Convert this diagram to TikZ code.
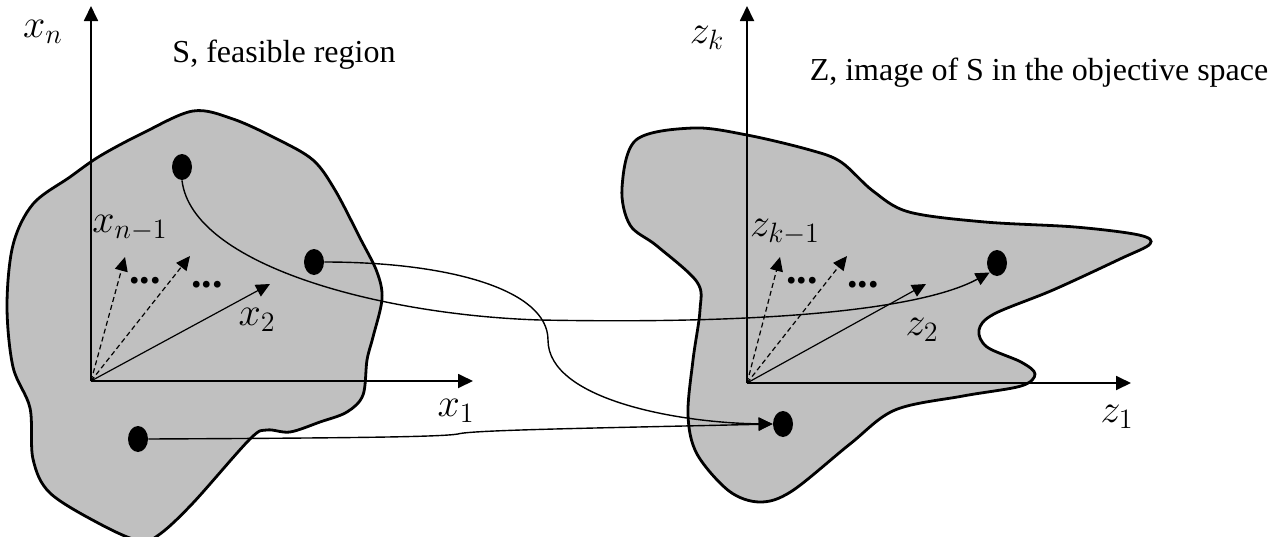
\RequirePackage{fix-cm}
\documentclass[tikz,border=0pt]{standalone}
\usepackage{amsmath}
\usepackage[no-math]{fontspec}
\setmainfont{Liberation Serif}
\usepackage{tikz}
\usetikzlibrary{arrows.meta,shapes.geometric}
\definecolor{regiongray}{HTML}{C0C0C0}

\begin{document}
\begin{tikzpicture}[
  x=0.5pt, y=-0.5pt,
  region/.style={draw=black, fill=regiongray, line width=1.4pt},
  axarrow/.style={-{Triangle[length=7.5pt,width=7pt]}, line width=0.9pt},
  vec/.style={-{Triangle[length=7pt,width=6.5pt]}, line width=0.6pt},
  dvec/.style={vec, dash pattern=on 2.5pt off 1.6pt},
  link/.style={-{Triangle[length=7pt,width=6.5pt]}, line width=0.7pt},
  pnt/.style={ellipse, fill=black, inner sep=0pt, minimum width=10pt, minimum height=13pt},
  lbl/.style={font=\fontsize{20}{22}\selectfont, inner sep=0pt},
  ttl/.style={font=\fontsize{16}{18}\selectfont, inner sep=0pt},
  ellip/.style={font=\fontsize{21}{22}\selectfont\bfseries, inner sep=0pt},
]
\useasboundingbox (0,0) rectangle (1286,536);

% feasible region S
\draw[region] plot[smooth cycle, tension=0.55] coordinates {
  (193,111) (233,119) (277,139) (313,160) (335,190) (360,238) (377,272)
  (382,299) (373,337) (367,360) (363,395) (347,412) (320,422) (290,432)
  (267,430) (250,439) (193,503) (160,534) (140,541) (100,524) (50,493)
  (33,459) (30,408) (13,367) (7,306) (13,245) (33,204) (70,177) (100,156)
  (143,133)};

% image Z
\draw[region] plot[smooth cycle, tension=0.55] coordinates {
  (693,128) (747,135) (810,150) (841,162) (873,191) (909,212) (985,222)
  (1075,227) (1139,235) (1150,244) (1120,259) (1053,290) (994,314)
  (979,330) (987,347) (1021,362) (1035,374) (1021,386) (963,396)
  (895,410) (850,444) (792,491) (760,502) (729,491) (697,454) (688,415)
  (693,360) (700,310) (697,282) (657,246) (630,225) (622,188) (636,140)};

% decision space axes
\coordinate (ox) at (91,381);
\coordinate (xntip) at (91,6);
\coordinate (x1tip) at (473,381);
\draw[axarrow] (ox) -- (xntip);
\draw[axarrow] (ox) -- (x1tip);
\coordinate (xa) at (125,257);
\coordinate (xb) at (190,256);
\coordinate (xc) at (270,284);
\draw[dvec] (ox) -- (xa);
\draw[dvec] (ox) -- (xb);
\draw[vec] (ox) -- (xc);

\node[lbl] (lxn) at (43,32) {$x_n$};
\node[lbl] (lx1) at (456,411) {$x_1$};
\node[lbl] (lxn1) at (130,228) {$x_{n-1}$};
\node[lbl] (lx2) at (257,320) {$x_2$};
\node[ellip] (xd1) at (145,281) {...};
\node[ellip] (xd2) at (207,285) {...};
\node[ttl] (sname) at (284,55) {S, feasible region};

% objective space axes
\coordinate (oz) at (747,383);
\coordinate (zktip) at (747,6);
\coordinate (z1tip) at (1131,383);
\draw[axarrow] (oz) -- (zktip);
\draw[axarrow] (oz) -- (z1tip);
\coordinate (za) at (780,257);
\coordinate (zb) at (847,256);
\coordinate (zc) at (926,284);
\draw[dvec] (oz) -- (za);
\draw[dvec] (oz) -- (zb);
\draw[vec] (oz) -- (zc);

\node[lbl] (lzk) at (707,38) {$z_k$};
\node[lbl] (lz1) at (1117,417) {$z_1$};
\node[lbl] (lzk1) at (785,232) {$z_{k-1}$};
\node[lbl] (lz2) at (922,330) {$z_2$};
\node[ellip] (zd1) at (802,281) {...};
\node[ellip] (zd2) at (863,285) {...};
\node[ttl] (zname) at (1039,73) {Z, image of S in the objective space};

% points and their images
\node[pnt] (s1) at (182,167) {};
\node[pnt] (s2) at (314,262) {};
\node[pnt] (s3) at (138,439) {};
\node[pnt] (i1) at (997,263) {};
\node[pnt] (i2) at (783,424) {};

\draw[link] (s1.south) .. controls (192,265) and (380,315) .. (540,320)
  .. controls (800,325) and (930,305) .. (i1.south west);
\draw[link] (s2.east) .. controls (450,262) and (548,290) .. (548,340)
  .. controls (548,400) and (680,423) .. (i2.west);
\draw[link] (s3.east) .. controls (350,438) and (440,437) .. (458,434)
  .. controls (470,430) and (600,428) .. (i2.west);

\end{tikzpicture}
\end{document}
